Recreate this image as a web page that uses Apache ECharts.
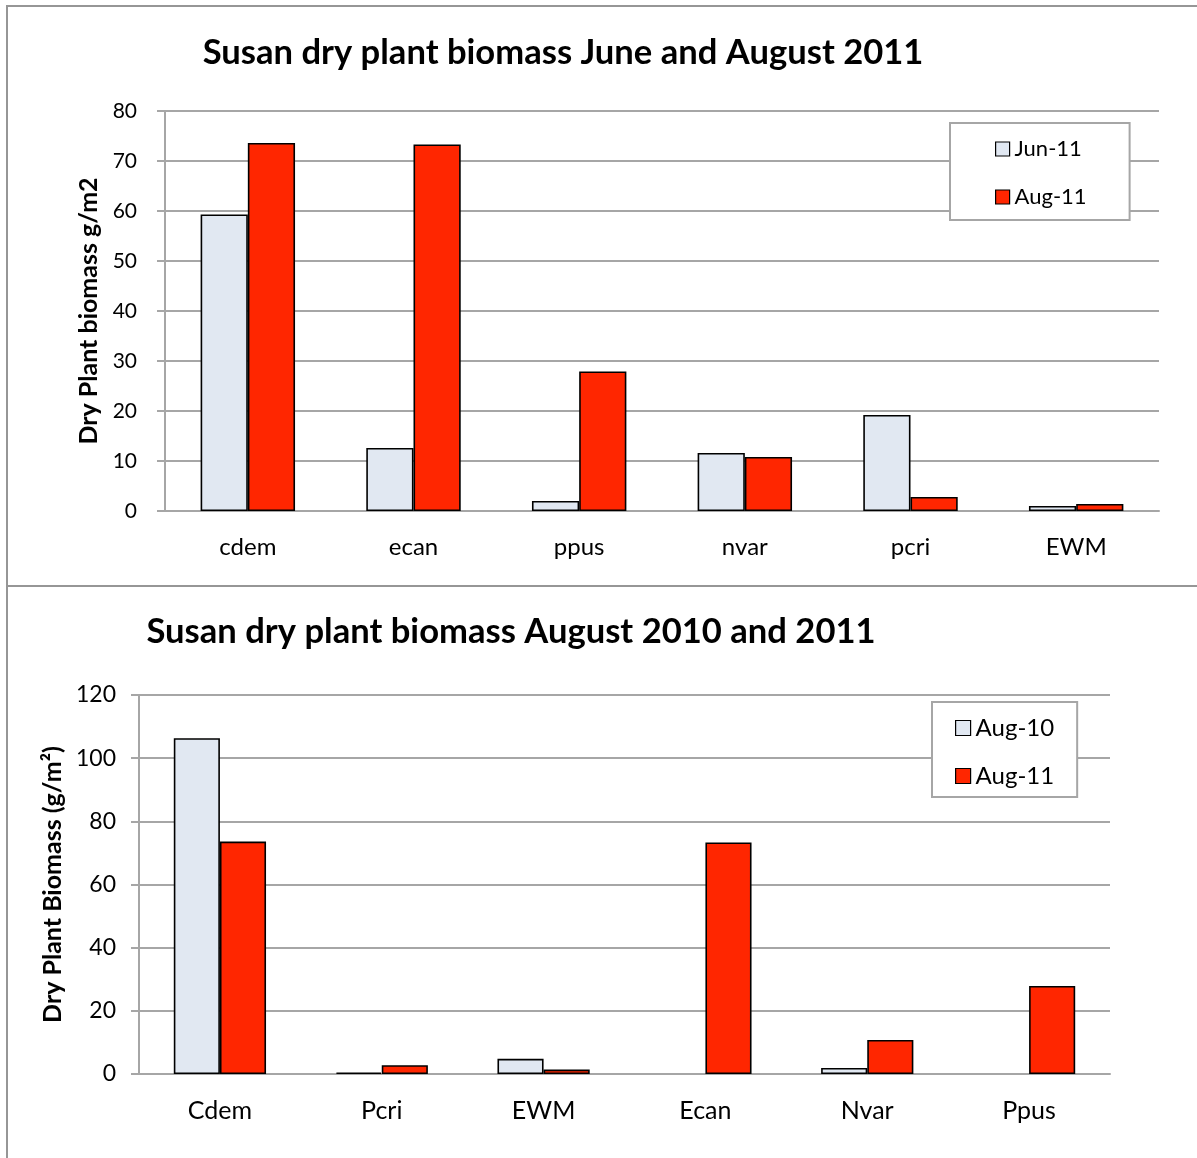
<!DOCTYPE html>
<html>
<head>
<meta charset="utf-8">
<script src="https://cdn.jsdelivr.net/npm/echarts@6/dist/echarts.min.js"></script>
<style>
  html, body { margin: 0; padding: 0; background: #fff; }
  #chart { width: 1197px; height: 1158px; }
</style>
</head>
<body>
<div id="chart"></div>
<script>
// June vs August 2011 biomass by species (g/m2)
const junAugSpecies = ['cdem', 'ecan', 'ppus', 'nvar', 'pcri', 'EWM'];
const jun11 = [59.3, 12.6, 2.0, 11.6, 19.2, 1.0];
const aug11 = [73.6, 73.3, 27.9, 10.8, 2.8, 1.4];

// August 2010 vs August 2011 biomass by species (g/m2)
const yearSpecies = ['Cdem', 'Pcri', 'EWM', 'Ecan', 'Nvar', 'Ppus'];
const aug10 = [106.3, 0.5, 4.8, null, 1.9, null];
const aug11ByYear = [73.6, 2.8, 1.4, 73.3, 10.8, 27.9];

// value axis ranges
const topAxis = { min: 0, max: 80, interval: 10 };
const bottomAxis = { min: 0, max: 120, interval: 20 };

const FONT = 'Lato';
const LIGHT = '#E1E8F2';
const RED = '#FF2600';
const GRID_GRAY = '#A6A6A6';
const FRAME_GRAY = '#969696';

const chart = echarts.init(document.getElementById('chart'), null, { renderer: 'canvas' });

function valueAxis(gridIndex, range, name, nameSize, nameGap, labelSize, labelMargin) {
  return {
    type: 'value', gridIndex,
    min: range.min, max: range.max, interval: range.interval,
    name, nameLocation: 'middle', nameGap, nameRotate: 90,
    nameTextStyle: { fontFamily: FONT, fontWeight: 'bold', fontSize: nameSize, color: '#000' },
    axisLine: { show: true, lineStyle: { color: GRID_GRAY, width: 2 } },
    axisTick: { show: true, length: 8, lineStyle: { color: GRID_GRAY, width: 2 } },
    axisLabel: { fontFamily: FONT, fontSize: labelSize, color: '#000', margin: labelMargin },
    splitLine: { show: true, lineStyle: { color: GRID_GRAY, width: 2 } }
  };
}

function categoryAxis(gridIndex, data, labelSize) {
  return {
    type: 'category', gridIndex, data,
    axisLine: { show: true, lineStyle: { color: GRID_GRAY, width: 2 } },
    axisTick: { show: false },
    axisLabel: { fontFamily: FONT, fontSize: labelSize, color: '#000', margin: 24 }
  };
}

function barSeries(name, axisIndex, data, color) {
  return {
    type: 'bar', name, xAxisIndex: axisIndex, yAxisIndex: axisIndex, data,
    barGap: '0%', barCategoryGap: '43%',
    itemStyle: { color, borderColor: '#000', borderWidth: 1.6 },
    emphasis: { disabled: true },
    animation: false
  };
}

const option = {
  animation: false,
  backgroundColor: '#fff',
  graphic: [
    // panel frames
    { type: 'polyline', shape: { points: [[7, 1158], [7, 6], [1197, 6]] },
      style: { stroke: FRAME_GRAY, lineWidth: 2, fill: null }, silent: true },
    { type: 'line', shape: { x1: 7, y1: 586, x2: 1197, y2: 586 },
      style: { stroke: FRAME_GRAY, lineWidth: 2 }, silent: true },
    // panel titles
    { type: 'text', x: 563, y: 53,
      style: { text: 'Susan dry plant biomass June and August 2011', fontFamily: FONT, fontWeight: 'bold',
               fontSize: 34.6, fill: '#000', align: 'center', verticalAlign: 'middle' } },
    { type: 'text', x: 511, y: 632,
      style: { text: 'Susan dry plant biomass August 2010 and 2011', fontFamily: FONT, fontWeight: 'bold',
               fontSize: 34.6, fill: '#000', align: 'center', verticalAlign: 'middle' } }
  ],
  grid: [
    { left: 165, top: 111, width: 994, height: 400, containLabel: false },
    { left: 139, top: 695, width: 971, height: 379, containLabel: false }
  ],
  xAxis: [categoryAxis(0, junAugSpecies, 24), categoryAxis(1, yearSpecies, 25)],
  yAxis: [
    valueAxis(0, topAxis, 'Dry Plant biomass g/m2', 25, 63, 21, 28),
    valueAxis(1, bottomAxis, 'Dry Plant Biomass (g/m²)', 25, 71, 23, 23)
  ],
  legend: [
    {
      data: ['Jun-11', 'Aug-11'], orient: 'vertical', left: 950, top: 123,
      padding: [15, 43, 12, 45], itemGap: 26, itemWidth: 14, itemHeight: 14, icon: 'rect',
      borderColor: GRID_GRAY, borderWidth: 2, backgroundColor: '#fff',
      itemStyle: { borderColor: '#000', borderWidth: 1.2 },
      textStyle: { fontFamily: FONT, fontSize: 22, color: '#000', lineHeight: 22 },
      selectedMode: false
    },
    {
      data: ['Aug-10', 'Aug-11'], orient: 'vertical', left: 932, top: 702,
      padding: [14, 23, 9, 23], itemGap: 24, itemWidth: 15, itemHeight: 15, icon: 'rect',
      borderColor: GRID_GRAY, borderWidth: 2, backgroundColor: '#fff',
      itemStyle: { borderColor: '#000', borderWidth: 1.2 },
      textStyle: { fontFamily: FONT, fontSize: 24, color: '#000', lineHeight: 24 },
      selectedMode: false
    }
  ],
  series: [
    barSeries('Jun-11', 0, jun11, LIGHT),
    barSeries('Aug-11', 0, aug11, RED),
    barSeries('Aug-10', 1, aug10, LIGHT),
    barSeries('Aug-11', 1, aug11ByYear, RED)
  ]
};

chart.setOption(option);
</script>
</body>
</html>
